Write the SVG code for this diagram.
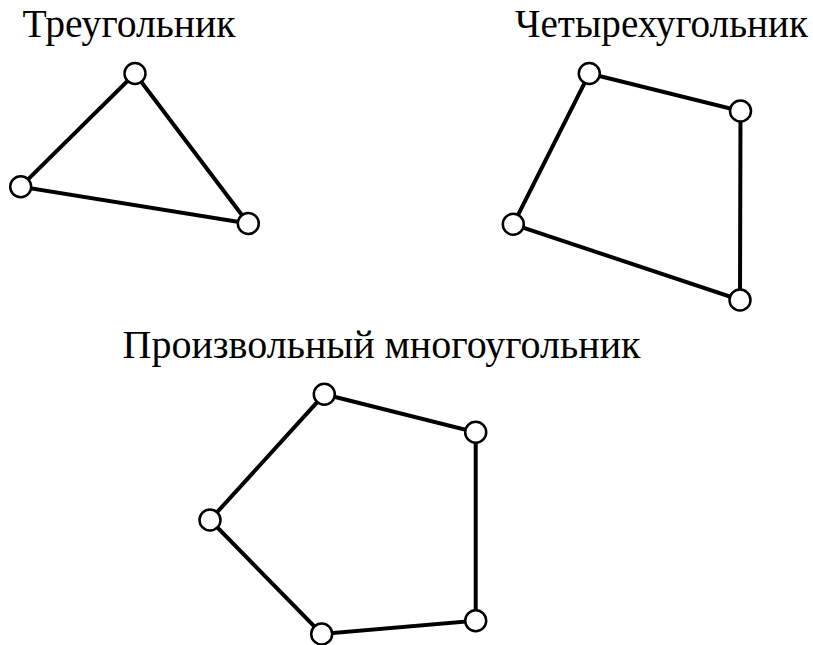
<svg xmlns="http://www.w3.org/2000/svg" width="813" height="645" viewBox="0 0 813 645">
<style>
.e{stroke:#000;stroke-width:4;fill:none;stroke-linecap:round}
.n{fill:#fff;stroke:#000;stroke-width:2.5}
</style>
<rect width="813" height="645" fill="#fff"/>
<g id="labels" font-family="Liberation Serif, DejaVu Serif, serif" font-size="40" fill="#000">
<text x="22.5" y="37" textLength="213" lengthAdjust="spacingAndGlyphs">Треугольник</text>
<text x="515" y="37" textLength="293" lengthAdjust="spacingAndGlyphs">Четырехугольник</text>
<text x="122.5" y="358" textLength="518" lengthAdjust="spacingAndGlyphs">Произвольный многоугольник</text>
</g>
<g id="connectors">
<polygon class="e" points="135,73.5 248.3,223.5 20.7,186.7"/>
<polygon class="e" points="589.3,73.5 740.5,111 740,300 513.3,224.3"/>
<polygon class="e" points="324.3,394.3 475.7,432.3 475.7,620.7 321.7,634 210,520"/>
</g>
<g id="t1"><circle class="n" cx="135" cy="73.5" r="10.5"/></g>
<g id="t2"><circle class="n" cx="248.3" cy="223.5" r="10.5"/></g>
<g id="t3"><circle class="n" cx="20.7" cy="186.7" r="10.5"/></g>
<g id="q1"><circle class="n" cx="589.3" cy="73.5" r="10.5"/></g>
<g id="q2"><circle class="n" cx="740.5" cy="111" r="10.5"/></g>
<g id="q3"><circle class="n" cx="740" cy="300" r="10.5"/></g>
<g id="q4"><circle class="n" cx="513.3" cy="224.3" r="10.5"/></g>
<g id="p1"><circle class="n" cx="324.3" cy="394.3" r="10.5"/></g>
<g id="p2"><circle class="n" cx="475.7" cy="432.3" r="10.5"/></g>
<g id="p3"><circle class="n" cx="475.7" cy="620.7" r="10.5"/></g>
<g id="p4"><circle class="n" cx="321.7" cy="634" r="10.5"/></g>
<g id="p5"><circle class="n" cx="210" cy="520" r="10.5"/></g>
</svg>
